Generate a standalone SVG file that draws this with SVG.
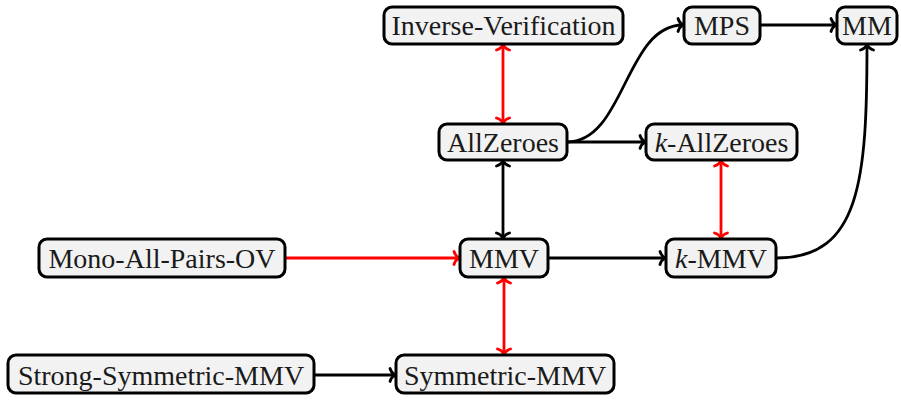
<svg xmlns="http://www.w3.org/2000/svg" width="901" height="401" viewBox="0 0 901 401">
<style>
.n rect{fill:#f2f2f2;stroke:#000;stroke-width:3}
.n text{font-family:"Liberation Serif","DejaVu Serif",serif;font-size:28px;fill:#1a1a1a;text-anchor:middle}
.e path{fill:none;stroke-width:2.8}
.k{stroke:#000}
.r{stroke:#ff0000}
</style>
<defs>
<marker id="ak" viewBox="-10 -10 20 20" markerWidth="20" markerHeight="20" markerUnits="userSpaceOnUse" refX="0" refY="0" orient="auto-start-reverse">
<path d="M-5,-6.5 C-4,-3 -1,-0.6 0,0 C-1,0.6 -4,3 -5,6.5" fill="none" stroke="#000" stroke-width="2.8" stroke-linecap="round"/>
</marker>
<marker id="ar" viewBox="-10 -10 20 20" markerWidth="20" markerHeight="20" markerUnits="userSpaceOnUse" refX="0" refY="0" orient="auto-start-reverse">
<path d="M-5,-6.5 C-4,-3 -1,-0.6 0,0 C-1,0.6 -4,3 -5,6.5" fill="none" stroke="#ff0000" stroke-width="2.8" stroke-linecap="round"/>
</marker>
</defs>
<g id="edges" class="e">
<path class="r" d="M503,45 V123" marker-start="url(#ar)" marker-end="url(#ar)"/>
<path class="k" d="M567,142 H645" marker-end="url(#ak)"/>
<path class="k" d="M567,142 C625,142 625,25 683,25" marker-end="url(#ak)"/>
<path class="k" d="M761,25 H836" marker-end="url(#ak)"/>
<path class="r" d="M721,161 V238" marker-start="url(#ar)" marker-end="url(#ar)"/>
<path class="k" d="M503,161 V238" marker-start="url(#ak)" marker-end="url(#ak)"/>
<path class="r" d="M286,258 H459" marker-end="url(#ar)"/>
<path class="k" d="M549,258 H665" marker-end="url(#ak)"/>
<path class="k" d="M777,258 C860,258 867,180 867,45" marker-end="url(#ak)"/>
<path class="r" d="M504,278 V354" marker-start="url(#ar)" marker-end="url(#ar)"/>
<path class="k" d="M315,375 H395" marker-end="url(#ak)"/>
</g>
<g id="n-iv" class="n"><rect x="384" y="7" width="239" height="37" rx="8"/><text x="503.5" y="34.5">Inverse-Verification</text></g>
<g id="n-mps" class="n"><rect x="684" y="7" width="76" height="37" rx="8"/><text x="722" y="34.5">MPS</text></g>
<g id="n-mm" class="n"><rect x="837" y="7" width="60" height="37" rx="8"/><text x="867" y="34.5">MM</text></g>
<g id="n-az" class="n"><rect x="439" y="124" width="128" height="36" rx="8"/><text x="503" y="151.5">AllZeroes</text></g>
<g id="n-kaz" class="n"><rect x="646" y="124" width="151" height="36" rx="8"/><text x="721.5" y="151.5"><tspan font-style="italic">k</tspan>-AllZeroes</text></g>
<g id="n-mapov" class="n"><rect x="39" y="239" width="246" height="38" rx="8"/><text x="162" y="267.5">Mono-All-Pairs-OV</text></g>
<g id="n-mmv" class="n"><rect x="460" y="239" width="88" height="38" rx="8"/><text x="504" y="267.5">MMV</text></g>
<g id="n-kmmv" class="n"><rect x="666" y="239" width="110" height="38" rx="8"/><text x="721" y="267.5"><tspan font-style="italic">k</tspan>-MMV</text></g>
<g id="n-ssmmv" class="n"><rect x="8" y="355" width="306" height="38" rx="8"/><text x="161" y="384.5">Strong-Symmetric-MMV</text></g>
<g id="n-smmv" class="n"><rect x="396" y="355" width="218" height="38" rx="8"/><text x="505" y="384.5">Symmetric-MMV</text></g>
</svg>
